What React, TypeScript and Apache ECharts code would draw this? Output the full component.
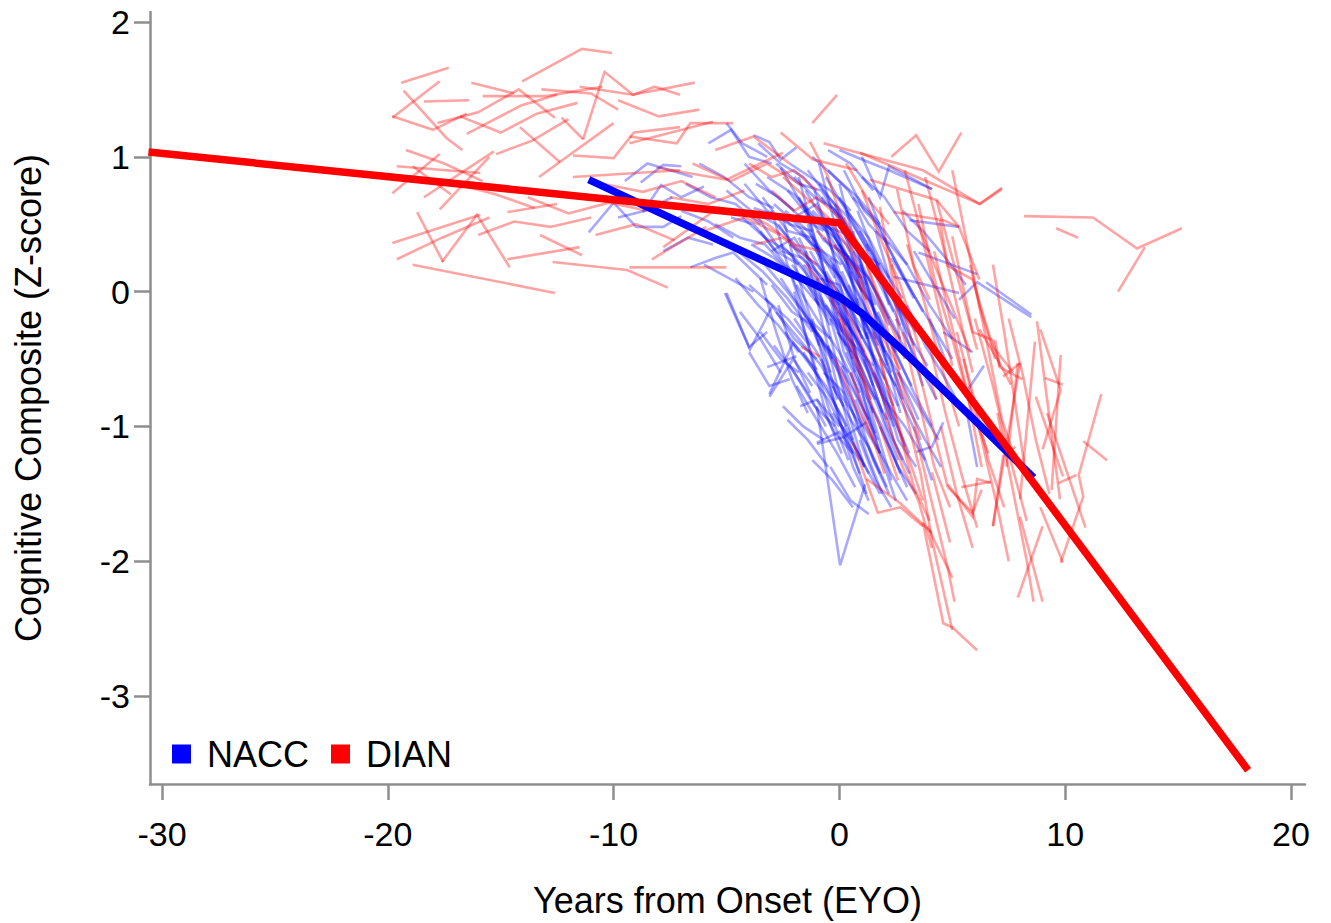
import React, { useEffect, useRef } from "react";
import * as echarts from "echarts";

// ---- axis ticks ----
const X_TICKS = [-30, -20, -10, 0, 10, 20];
const Y_TICKS = [-3, -2, -1, 0, 1, 2];

// ---- fitted group trajectories [EYO, z] ----
const DIAN_FIT = [
  [-30.6, 1.035],
  [0, 0.51],
  [18.1, -3.55],
];
const NACC_FIT = [
  [-11.1, 0.83],
  [-7, 0.51],
  [-3, 0.2],
  [-1, 0.045],
  [0, -0.04],
  [1, -0.16],
  [2.7, -0.42],
  [5.6, -0.89],
  [8.6, -1.38],
];

// ---- individual DIAN trajectories (flat x,y pairs) ----
const DIAN_TRAJ: number[][] = [
  [-19.4, 1.55, -17.3, 1.66],
  [-14.05, 1.56, -11.4, 1.8, -10.07, 1.77],
  [-19.3, 1.49, -17.4, 1.14, -16.7, 1.05],
  [-19.8, 1.29, -17.7, 1.56],
  [-18.4, 1.41, -16.4, 1.42],
  [-19.8, 1.3, -18.0, 1.2, -16.5, 1.32],
  [-17.8, 1.25, -16.0, 1.33, -14.2, 1.5, -12.6, 1.29],
  [-16.5, 1.17, -14.1, 1.38, -12.5, 1.46],
  [-15.8, 1.45, -13.0, 1.45, -10.5, 1.52],
  [-13.2, 1.5, -11.0, 1.47, -9.8, 1.35],
  [-11.35, 1.13, -10.4, 1.63, -9.14, 1.46, -8.17, 1.52, -7.06, 1.46],
  [-12.3, 1.29, -11.35, 1.13],
  [-14.15, 1.22, -12.37, 0.96],
  [-11.5, 1.52, -9.14, 1.46, -6.4, 1.55],
  [-9.3, 1.1, -5.6, 1.26],
  [-19.8, 0.36, -15.9, 0.57],
  [-19.6, 0.24, -17.6, 0.4, -15.5, 0.55],
  [-17.6, 0.22, -16.05, 0.57, -14.6, 0.18],
  [-18.9, 0.2, -12.6, -0.01],
  [-18.7, 0.59, -17.55, 0.22],
  [-14.7, 0.24, -11.5, 0.33],
  [-13.26, 0.42, -11.4, 0.27],
  [-12.7, 0.22, -9.4, 0.16, -7.6, 0.03],
  [-19.8, 0.73, -17.7, 1.02],
  [-18.4, 0.7, -15.3, 1.04],
  [-17.7, 0.61, -15.5, 1.0],
  [-19.6, 0.93, -15.9, 0.88],
  [-18.9, 0.93, -17.2, 0.72],
  [-14.7, 0.59, -12.5, 0.65],
  [-11.8, 0.85, -7.06, 0.9],
  [-13.3, 0.85, -12.4, 0.96, -10.0, 1.25],
  [-11.8, 1.01, -10.0, 0.99, -9.1, 1.18, -7.06, 1.22],
  [-9.3, 1.15, -7.2, 1.1, -6.6, 1.25, -4.7, 1.25],
  [-9.3, 0.18, -5.0, 0.18],
  [-8.3, 0.24, -5.9, 0.48],
  [-7.8, 0.33, -5.3, 0.63],
  [-8.1, 0.92, -5.0, 0.83, -2.5, 1.03],
  [-2.6, 1.18, -1.17, 0.98, 0.8, 0.9],
  [-0.7, 1.1, 1.5, 1.0, 3.7, 0.9, 6.2, 0.65, 7.2, 0.77],
  [2.3, 1.0, 3.4, 1.16, 4.4, 0.89, 5.4, 1.18],
  [-16.8, 1.3, -15.0, 1.18, -13.4, 1.32, -11.6, 1.4],
  [-15.2, 1.02, -13.6, 1.12, -12.0, 1.28],
  [-17.0, 0.8, -15.2, 0.72, -13.5, 0.62],
  [-16.0, 0.42, -14.4, 0.52, -12.8, 0.48, -11.0, 0.55],
  [-13.8, 0.7, -12.0, 0.58, -10.2, 0.66, -8.5, 0.6],
  [-10.8, 0.42, -9.0, 0.5, -7.3, 0.38],
  [-10.5, 0.8, -8.7, 0.74, -7.0, 0.82, -5.5, 0.7],
  [-9.8, 1.42, -8.0, 1.3, -6.2, 1.35],
  [-19.2, 1.05, -17.5, 0.95, -15.8, 0.82],
  [-16.3, 1.55, -14.4, 1.47],
  [-6.5, 0.95, -4.8, 0.82, -3.2, 0.95, -1.6, 0.78],
  [-6.0, 0.45, -4.2, 0.55, -2.6, 0.42],
  [-5.5, 1.05, -3.8, 1.15, -2.2, 0.95],
  [-7.5, 0.7, -5.8, 0.65, -4.2, 0.75],
  [-1.2, 1.25, -0.1, 1.46],
  [-2.5, 0.85, -1.5, 0.7, -0.5, 0.55, 0.5, 0.3],
  [-1.3, 1.11, -0.55, 0.87, 0.6, 0.29, 1.2, -0.06],
  [1.8, 0.63, 2.4, 0.04, 2.7, -0.41],
  [2.55, 0.76, 3.3, 0.19, 4.0, -0.06],
  [4.45, 0.53, 4.8, 0.19, 5.9, 0.09, 6.8, -0.41, 7.7, -0.6],
  [0.8, 0.09, 1.5, -0.21, 2.7, -0.58],
  [-1.7, -0.41, -0.85, -0.48],
  [0.6, -1.12, 1.7, -1.64, 2.7, -1.6, 3.7, -1.74],
  [-4.5, 0.6, -3.2, 0.5, -2.0, 0.35, -0.8, 0.3],
  [-3.8, 0.35, -2.5, 0.4, -1.0, 0.2],
  [-0.5, 0.1, 0.5, -0.2, 1.5, -0.6, 2.3, -0.95],
  [0.2, 0.55, 1.0, 0.3, 1.9, -0.1, 2.9, -0.5],
  [1.0, 0.75, 1.8, 0.4, 2.7, 0.05, 3.5, -0.4, 4.3, -0.8],
  [1.5, -0.3, 2.2, -0.75, 3.0, -1.2, 3.7, -1.55],
  [2.0, -0.9, 2.8, -1.3, 3.5, -1.55, 4.1, -1.9],
  [-0.2, -0.5, 0.7, -0.85, 1.5, -1.1],
  [0.3, 0.95, 1.2, 0.7, 2.2, 0.5],
  [-1.0, 0.45, 0.0, 0.3, 1.0, 0.1],
  [3.0, 0.35, 3.8, -0.1, 4.6, -0.6, 5.3, -1.0],
  [3.5, 0.65, 4.2, 0.1, 5.0, -0.35, 5.8, -0.85, 6.6, -1.2],
  [2.3, 0.2, 3.1, -0.3, 3.9, -0.85, 4.8, -1.45],
  [4.0, -0.4, 4.7, -0.9, 5.4, -1.35, 6.1, -1.75],
  [5.2, -0.3, 5.9, -0.75, 6.6, -1.25, 7.3, -1.6],
  [6.0, -0.2, 6.8, -0.7, 7.5, -1.2, 8.3, -1.7],
  [6.8, 0.2, 7.3, -0.3, 7.8, -0.85, 8.3, -1.4],
  [1.35, 0.83, 4.3, 0.68, 5.3, 0.48, 6.2, 0.09],
  [4.3, 0.68, 6.1, -0.43],
  [3.4, 0.53, 5.8, -0.45],
  [2.4, 0.59, 4.6, 0.53, 5.3, 0.48],
  [5.0, 0.41, 5.9, -0.3, 6.8, -0.36, 7.1, -0.56],
  [8.9, -0.28, 9.8, -0.73, 9.0, -1.17],
  [9.8, -0.47, 9.4, -1.47],
  [8.7, -0.78, 9.9, -1.37],
  [9.1, -0.64, 9.9, -0.69],
  [11.6, -0.76, 10.6, -1.36, 10.8, -1.52, 9.8, -2.01],
  [10.8, -1.11, 11.85, -1.25],
  [9.7, -1.42, 10.5, -1.36],
  [7.9, -2.27, 9.0, -1.74],
  [9.0, -2.3, 8.0, -1.67],
  [6.8, -1.74, 7.25, -1.22, 7.8, -1.15],
  [4.8, -1.43, 5.9, -1.67, 6.1, -1.39, 6.7, -1.42],
  [5.4, -1.45, 6.7, -1.41],
  [4.1, -1.34, 4.9, -1.86],
  [3.7, -1.71, 4.6, -2.46, 5.0, -2.49, 6.1, -2.66],
  [3.9, -1.74, 5.0, -2.12],
  [7.25, -0.63, 8.0, -0.53],
  [6.2, -0.28, 7.1, -0.53, 7.6, -0.69],
  [8.9, -1.6, 9.9, -2.01],
  [1.2, -1.39, 2.7, -1.57, 4.1, -1.79],
  [8.75, -0.22, 9.77, -1.54],
  [8.66, -0.37, 8.0, -1.54],
  [6.9, -0.36, 7.1, -0.56, 8.1, -0.65],
  [7.9, -0.53, 7.4, -1.3],
  [2.5, -0.6, 3.6, -1.35, 4.1, -1.84, 5.0, -2.51],
  [6.8, -1.74, 8.0, -0.53],
  [4.8, -1.45, 5.9, -1.64, 6.3, -1.47],
  [7.0, -0.9, 7.6, -1.4, 8.3, -2.0, 8.6, -2.3],
  [5.5, -0.5, 6.3, -1.1, 7.0, -1.6, 7.5, -2.0],
  [3.3, -1.0, 4.0, -1.5, 4.8, -2.05, 5.1, -2.3],
  [9.2, -0.9, 10.0, -1.3, 10.9, -1.75],
  [8.17, 0.56, 11.23, 0.55, 13.18, 0.32, 15.17, 0.47],
  [13.53, 0.33, 12.34, 0.0],
  [9.6, 0.47, 10.57, 0.4],
  [0.91, 1.03, 6.23, 0.65, 7.2, 0.76],
  [-1.5, 0.2, -0.5, 0.0, 0.5, -0.35, 1.4, -0.8],
  [0.0, -0.2, 0.9, -0.6, 1.8, -1.0, 2.6, -1.4],
  [1.2, 0.2, 2.0, -0.2, 2.8, -0.7, 3.6, -1.1],
  [2.8, -0.3, 3.5, -0.8, 4.2, -1.3, 4.9, -1.6],
  [3.8, 0.85, 4.5, 0.4, 5.2, -0.1, 5.9, -0.6],
  [5.0, 0.9, 5.6, 0.4, 6.2, -0.1, 6.9, -0.5],
  [-3.0, 0.75, -2.0, 0.6, -1.0, 0.7, 0.0, 0.55],
  [-4.0, 0.95, -3.0, 0.85, -2.0, 0.9, -1.0, 0.75],
  [0.5, -0.6, 1.3, -1.0, 2.0, -1.35],
  [4.5, -1.0, 5.2, -1.5, 5.9, -1.9],
  [7.5, -0.2, 8.1, -0.6, 8.7, -1.1, 9.3, -1.5],
  [1.8, -0.5, 2.6, -1.0, 3.3, -1.45, 4.0, -1.7],
  [4.2, 0.3, 4.9, -0.2, 5.6, -0.7, 6.3, -1.3],
  [5.8, 0.2, 6.5, -0.35, 7.2, -0.95, 7.9, -1.3],
  [2.9, 0.9, 3.6, 0.45, 4.3, -0.05, 5.0, -0.55],
];

// ---- individual NACC trajectories (flat x,y pairs) ----
const NACC_TRAJ: number[][] = [
  [-3.8, 0.62, -2.5, 0.55, -1.2, 0.35, 0.1, 0.2],
  [-3.2, 0.85, -2.0, 0.72, -0.8, 0.5, 0.4, 0.42],
  [-2.6, 0.92, -1.5, 0.6, -0.4, 0.45, 0.9, 0.1],
  [-2.2, 0.35, -1.0, 0.2, 0.2, -0.05, 1.3, -0.35],
  [-1.8, 0.7, -0.7, 0.38, 0.5, 0.25, 1.6, -0.1],
  [-1.5, 0.1, -0.6, -0.12, 0.4, -0.35, 1.5, -0.55],
  [-1.0, 0.55, 0.0, 0.3, 1.0, 0.05, 2.0, -0.3],
  [-0.6, 0.85, 0.3, 0.6, 1.3, 0.4, 2.2, 0.1],
  [-0.2, 0.0, 0.7, -0.25, 1.6, -0.5, 2.6, -0.85],
  [0.1, 0.45, 1.0, 0.2, 2.0, -0.15, 3.0, -0.45],
  [0.4, -0.2, 1.2, -0.5, 2.0, -0.75, 2.9, -1.15],
  [0.6, 0.7, 1.5, 0.55, 2.4, 0.25, 3.3, -0.05],
  [-4.5, 0.3, -3.4, 0.15, -2.3, -0.05, -1.2, -0.3],
  [-4.0, 0.05, -3.0, -0.1, -2.0, -0.35, -1.0, -0.5],
  [-3.5, 0.45, -2.4, 0.2, -1.4, 0.05, -0.4, -0.25],
  [-2.8, -0.15, -1.8, -0.35, -0.8, -0.55, 0.2, -0.85],
  [-2.4, 0.6, -1.4, 0.45, -0.3, 0.2, 0.7, -0.1, 1.7, -0.4],
  [-1.9, 0.05, -1.0, -0.2, 0.0, -0.45, 0.9, -0.75],
  [-1.3, 0.3, -0.4, 0.05, 0.6, -0.3, 1.5, -0.7],
  [-0.9, -0.35, 0.0, -0.6, 0.9, -0.95, 1.8, -1.2],
  [-0.4, 0.25, 0.5, -0.05, 1.4, -0.25, 2.3, -0.6],
  [0.2, 0.9, 1.1, 0.6, 2.0, 0.45, 3.0, 0.2],
  [0.8, -0.05, 1.7, -0.35, 2.6, -0.6, 3.5, -0.95],
  [1.2, 0.35, 2.1, 0.05, 3.0, -0.3, 3.9, -0.55],
  [1.5, -0.6, 2.3, -0.9, 3.1, -1.2],
  [-3.0, 0.3, -2.0, 0.4, -1.0, 0.15, 0.0, -0.1],
  [-2.0, 0.85, -1.1, 0.7, -0.1, 0.6, 0.8, 0.35],
  [-1.6, -0.45, -0.7, -0.7, 0.2, -0.95, 1.1, -1.3],
  [-0.8, 0.1, 0.1, -0.15, 1.0, -0.45, 1.9, -0.9],
  [-0.3, 0.6, 0.6, 0.4, 1.5, 0.15, 2.4, -0.15],
  [0.3, -0.45, 1.1, -0.75, 1.9, -1.0, 2.7, -1.35],
  [-5.5, 0.5, -4.4, 0.4, -3.3, 0.35, -2.2, 0.15],
  [-5.0, 0.75, -3.9, 0.6, -2.8, 0.5, -1.7, 0.3],
  [-4.2, 0.95, -3.1, 0.75, -2.0, 0.6],
  [-3.6, 1.1, -2.6, 0.95, -1.6, 0.85, -0.6, 0.65],
  [-1.2, 1.0, -0.2, 0.85, 0.8, 0.7, 1.8, 0.5],
  [-0.5, 1.05, 0.5, 0.95, 1.5, 0.75],
  [1.0, 0.85, 2.0, 0.7, 3.0, 0.45, 4.0, 0.3],
  [2.0, 0.4, 3.0, 0.2, 4.0, -0.1, 5.0, -0.35],
  [2.5, -0.2, 3.4, -0.5, 4.3, -0.8],
  [1.8, -1.0, 2.6, -1.3, 3.4, -1.5],
  [0.9, -1.1, 1.6, -1.4, 2.3, -1.6],
  [-0.3, -0.9, 0.5, -1.1, 1.3, -1.35],
  [-1.0, -0.8, -0.2, -1.05, 0.6, -1.2],
  [-2.2, -0.55, -1.4, -0.75, -0.6, -1.0],
  [-3.5, -0.3, -2.6, -0.5, -1.8, -0.6],
  [-6.0, 0.2, -4.9, 0.1, -3.8, 0.0],
  [-6.6, 0.18, -5.5, 0.25, -4.7, 0.29, -3.2, 0.05],
  [-7.0, 0.6, -5.8, 0.52, -4.7, 0.4],
  [-6.2, 0.95, -5.1, 0.85, -4.0, 0.7, -2.9, 0.62],
  [-5.8, 1.1, -4.8, 1.2, -4.0, 1.0, -3.0, 0.95],
  [-9.5, 0.82, -8.5, 0.95, -7.5, 0.9, -6.5, 0.85],
  [-11.1, 0.44, -10.0, 0.66, -9.0, 0.48, -7.8, 0.48, -7.0, 0.56],
  [-8.8, 0.81, -7.8, 0.94, -7.0, 0.93],
  [-8.7, 0.59, -7.9, 0.79, -7.0, 0.7, -6.0, 0.78],
  [-5.0, 1.25, -4.3, 1.1, -3.2, 1.0],
  [-3.8, 1.16, -3.1, 1.11, -2.6, 0.98, -1.9, 1.07],
  [0.0, 1.05, 1.0, 0.98, 2.2, 0.9, 4.1, 0.76],
  [-5.0, -0.01, -4.0, -0.41, -3.2, -0.3],
  [-3.2, -0.56, -1.9, -0.48],
  [-3.1, -0.76, -2.05, -0.38, -1.0, -0.58],
  [-1.74, -0.85, -1.0, -0.8, 0.0, -1.0],
  [-1.0, -1.13, 0.17, -1.08, 1.2, -0.97],
  [-1.0, -0.85, 0.03, -2.03, 1.14, -1.43],
  [6.5, 0.07, 8.5, -0.17],
  [5.65, -0.9, 6.1, -1.3],
  [3.4, -1.19, 4.1, -1.15, 4.6, -0.97],
  [1.0, 1.0, 1.8, 0.7, 2.2, 0.93, 4.1, 0.76],
  [3.1, 0.53, 5.3, 0.48],
  [3.5, 0.29, 6.1, 0.13],
  [5.3, -0.06, 6.1, 0.07, 8.5, -0.19],
  [2.4, 0.11, 5.3, -0.01],
  [4.6, -0.3, 5.9, -0.45],
  [0.5, -0.6, 1.3, -0.95, 2.1, -1.35, 2.5, -1.55],
  [1.2, -0.3, 1.9, -0.7, 2.6, -1.1, 3.4, -1.3],
  [-0.5, -0.4, 0.4, -0.8, 1.2, -1.2, 1.9, -1.5],
  [2.2, -0.5, 3.0, -0.85, 3.8, -1.1, 4.5, -1.3],
  [3.0, -0.1, 3.8, -0.4, 4.7, -0.65, 5.5, -0.9],
  [2.8, 0.6, 3.7, 0.45, 4.7, 0.25, 5.6, 0.05],
  [4.0, -0.2, 4.9, -0.6, 5.6, -0.75, 6.4, -0.55],
  [-2.0, -0.2, -1.0, -0.45, 0.0, -0.75, 1.0, -1.0],
  [-2.6, 0.1, -1.6, -0.15, -0.6, -0.4, 0.4, -0.6],
  [-1.4, 0.9, -0.5, 0.7, 0.4, 0.55, 1.3, 0.3],
  [0.0, 0.7, 0.9, 0.45, 1.8, 0.2, 2.8, -0.05],
  [-0.6, -0.1, 0.3, -0.3, 1.2, -0.65, 2.1, -0.95],
  [-1.7, 0.45, -0.8, 0.25, 0.1, 0.1, 1.0, -0.2],
  [-2.9, 0.65, -1.9, 0.5, -0.9, 0.3],
  [0.5, 0.15, 1.4, -0.1, 2.3, -0.4, 3.2, -0.7],
  [1.6, 0.2, 2.5, -0.1, 3.4, -0.3],
  [-0.1, -0.3, 0.8, -0.5, 1.7, -0.85, 2.6, -1.25],
  [-3.3, -0.05, -2.3, -0.2, -1.3, -0.4],
  [-4.3, 0.55, -3.3, 0.4, -2.3, 0.3, -1.3, 0.1],
  [-0.8, 0.7, 0.1, 0.55, 1.0, 0.25],
  [1.1, -0.5, 2.0, -0.8, 2.9, -1.0, 3.8, -1.25],
  [-2.5, -0.85, -1.6, -1.0, -0.7, -1.1],
  [-4.0, -0.45, -3.1, -0.7, -2.2, -0.65],
  [-5.07, -0.01, -3.96, -0.43, -2.98, -0.11],
  [-3.1, -0.78, -2.05, -0.5, -1.2, -0.7],
  [-1.0, -1.12, 0.0, -1.04, 0.9, -1.25],
  [-2.3, 0.75, -1.3, 0.55, -0.2, 0.4, 0.8, 0.15],
  [-1.1, -0.05, -0.2, -0.25, 0.7, -0.55, 1.6, -0.8],
  [-0.7, 0.4, 0.2, 0.2, 1.1, -0.1, 2.0, -0.45],
  [0.6, 0.3, 1.4, 0.0, 2.2, -0.25],
  [-3.7, 0.8, -2.7, 0.7, -1.7, 0.55, -0.7, 0.45],
  [-2.1, 0.2, -1.2, 0.0, -0.3, -0.2, 0.6, -0.5],
  [-3.4, 0.7, -2.3, 0.45, -1.2, 0.4, -0.2, 0.1],
  [-2.7, 0.5, -1.7, 0.25, -0.7, 0.1, 0.3, -0.25],
  [-2.0, 0.55, -1.0, 0.65, 0.0, 0.35, 1.0, 0.0],
  [-1.5, 0.75, -0.6, 0.5, 0.3, 0.35, 1.2, 0.05],
  [-1.1, 0.35, -0.2, 0.15, 0.7, -0.1, 1.6, -0.35],
  [-0.9, 0.8, 0.0, 0.6, 0.9, 0.3, 1.8, 0.2],
  [-0.5, 0.55, 0.4, 0.25, 1.3, 0.1, 2.2, -0.2],
  [-0.2, 0.35, 0.6, 0.05, 1.4, -0.2, 2.2, -0.5],
  [0.1, 0.15, 0.9, -0.15, 1.7, -0.45, 2.5, -0.7],
  [0.3, 0.6, 1.1, 0.35, 1.9, 0.05, 2.7, -0.25],
  [-3.9, 0.35, -2.9, 0.25, -1.9, 0.1, -0.9, -0.1],
  [-3.3, 0.2, -2.3, 0.0, -1.4, -0.2, -0.4, -0.35],
  [-2.8, 0.95, -1.8, 0.8, -0.8, 0.75, 0.2, 0.5],
  [-2.4, -0.3, -1.5, -0.5, -0.6, -0.7, 0.3, -1.0],
  [-1.9, -0.7, -1.0, -0.95, -0.1, -1.2, 0.7, -1.45],
  [-1.3, -0.25, -0.4, -0.45, 0.5, -0.7, 1.3, -0.95],
  [-0.7, -0.6, 0.2, -0.75, 1.0, -1.05, 1.8, -1.35],
  [-0.1, -0.15, 0.8, -0.35, 1.6, -0.65, 2.4, -1.0],
  [0.5, -0.35, 1.3, -0.6, 2.1, -1.0, 2.8, -1.25],
  [0.9, 0.45, 1.7, 0.2, 2.5, -0.05, 3.3, -0.4],
  [1.3, 0.7, 2.1, 0.35, 2.9, 0.1, 3.7, -0.15],
  [1.7, -0.15, 2.5, -0.45, 3.3, -0.75, 4.1, -1.0],
  [-4.8, 0.55, -3.8, 0.5, -2.8, 0.3, -1.8, 0.2],
  [-4.6, 0.1, -3.6, -0.1, -2.7, -0.25, -1.8, -0.45],
  [-4.2, 0.8, -3.2, 0.6, -2.2, 0.5, -1.2, 0.45],
  [-3.0, 0.05, -2.1, -0.15, -1.2, -0.25, -0.3, -0.5],
  [-1.6, 0.2, -0.7, 0.0, 0.2, -0.2, 1.1, -0.45],
  [-0.3, -0.7, 0.5, -0.95, 1.3, -1.15, 2.1, -1.45],
  [0.7, -0.8, 1.5, -1.1, 2.3, -1.35, 3.0, -1.55],
  [-2.2, 0.95, -1.3, 0.85, -0.4, 0.75, 0.5, 0.6],
  [-1.8, 0.4, -0.9, 0.1, 0.0, 0.05, 0.9, -0.3],
  [-1.2, 0.6, -0.3, 0.45, 0.6, 0.1, 1.5, -0.1],
  [-0.6, 0.15, 0.3, -0.1, 1.2, -0.4, 2.0, -0.65],
  [0.0, 0.35, 0.8, 0.15, 1.6, -0.15, 2.5, -0.45],
  [0.4, 0.05, 1.2, -0.25, 2.0, -0.55, 2.8, -0.8],
  [-2.6, 0.35, -1.7, 0.2, -0.8, -0.05, 0.1, -0.3],
  [-3.6, 0.55, -2.6, 0.3, -1.6, 0.25, -0.6, 0.0],
  [-1.4, -0.6, -0.5, -0.8, 0.4, -1.1, 1.2, -1.5],
  [0.2, -1.0, 1.0, -1.25, 1.8, -1.5],
  [1.4, -0.85, 2.2, -1.15, 3.0, -1.45],
  [-4.4, -0.15, -3.5, -0.35, -2.6, -0.6],
  [-2.9, -0.4, -2.0, -0.6, -1.1, -0.85, -0.2, -1.0],
  [-0.5, 0.9, 0.4, 0.75, 1.3, 0.5, 2.2, 0.35],
  [0.9, 0.2, 1.8, -0.05, 2.7, -0.35],
  [2.3, 0.25, 3.2, 0.0, 4.1, -0.25, 5.0, -0.5],
  [2.6, -0.6, 3.5, -0.85, 4.4, -1.1],
  [3.3, 0.3, 4.2, 0.05, 5.1, -0.2],
  [-6.8, 0.8, -5.7, 0.7, -4.6, 0.65, -3.5, 0.5],
  [-7.8, 0.3, -6.7, 0.4, -5.6, 0.35],
  [-9.8, 0.55, -8.6, 0.6, -7.4, 0.7],
  [-2.3, -0.95, -1.4, -1.1, -0.5, -1.3],
  [-1.2, -1.25, -0.3, -1.4, 0.6, -1.6],
  [-0.4, -1.3, 0.5, -1.55, 1.3, -1.65],
  [-1.5, 0.3, -0.8, -0.2, -0.1, -0.7, 0.6, -1.1],
  [-1.0, 0.1, -0.3, -0.4, 0.4, -0.9, 1.1, -1.3],
  [-0.6, 0.5, 0.1, 0.0, 0.8, -0.5, 1.5, -0.9],
  [-2.0, 0.0, -1.3, -0.45, -0.6, -0.9, 0.1, -1.2],
  [-0.3, 0.2, 0.4, -0.3, 1.1, -0.8, 1.8, -1.2],
  [0.2, -0.1, 0.9, -0.6, 1.6, -1.0, 2.3, -1.4],
  [-1.2, -0.2, -0.5, -0.65, 0.2, -1.05, 0.9, -1.35],
  [-2.5, 0.55, -1.8, 0.1, -1.1, -0.3, -0.4, -0.6],
  [-1.8, 0.85, -1.1, 0.4, -0.4, 0.0, 0.3, -0.4],
  [-0.9, 0.95, -0.2, 0.5, 0.5, 0.1, 1.2, -0.35],
  [0.0, 0.8, 0.7, 0.35, 1.4, -0.05, 2.1, -0.55],
  [0.6, 0.45, 1.3, 0.0, 2.0, -0.45, 2.7, -0.9],
  [1.0, -0.2, 1.7, -0.65, 2.4, -1.1, 3.1, -1.35],
  [-3.0, 0.6, -2.3, 0.2, -1.6, -0.1, -0.9, -0.4],
  [-3.5, 0.1, -2.8, -0.3, -2.1, -0.65, -1.4, -0.9],
  [-1.6, 0.65, -0.9, 0.3, -0.2, -0.15, 0.5, -0.45],
  [-0.4, -0.2, 0.3, -0.6, 1.0, -0.85, 1.7, -1.1],
  [-2.2, 0.15, -1.5, -0.2, -0.8, -0.35, -0.1, -0.8],
  [0.3, 0.25, 1.0, -0.2, 1.7, -0.6, 2.4, -0.85],
  [-1.4, 0.5, -0.7, 0.15, 0.0, -0.1, 0.7, -0.6],
  [-0.8, -0.5, -0.1, -0.9, 0.6, -1.3, 1.3, -1.55],
  [1.6, 0.45, 2.3, 0.05, 3.0, -0.35, 3.7, -0.7],
  [2.0, -0.3, 2.7, -0.8, 3.4, -1.05, 4.1, -1.4],
  [-2.7, -0.1, -2.0, -0.5, -1.3, -0.75],
  [-0.2, 0.65, 0.5, 0.3, 1.2, -0.15, 1.9, -0.3],
  [-1.1, 0.75, -0.4, 0.35, 0.3, 0.0, 1.0, -0.35],
  [0.8, 0.6, 1.5, 0.3, 2.2, -0.1],
  [-1.7, -0.2, -1.0, -0.6, -0.3, -0.95, 0.4, -1.25],
  [-0.5, 0.0, 0.2, -0.45, 0.9, -0.7, 1.6, -1.05],
  [0.1, -0.55, 0.8, -0.9, 1.5, -1.25, 2.2, -1.5],
];

function pairs(flat: number[]): number[][] {
  const out: number[][] = [];
  for (let i = 0; i + 1 < flat.length; i += 2) out.push([flat[i], flat[i + 1]]);
  return out;
}

const FONT = "'Liberation Sans', Arial, Helvetica, sans-serif";
const AXIS_GRAY = "#8e8e8e";

function spaghetti(traj: number[][], color: string, opacity: number, z: number, prefix: string) {
  return traj.map((t, i) => ({
    name: prefix + i,
    type: "line",
    data: pairs(t),
    showSymbol: false,
    symbol: "none",
    silent: true,
    clip: true,
    emphasis: { disabled: true },
    lineStyle: { color, width: 2.6, opacity, join: "miter" },
    itemStyle: { color },
    z,
  }));
}

export default function App() {
  const ref = useRef<HTMLDivElement>(null);

  useEffect(() => {
    if (!ref.current) return;
    const chart = echarts.init(ref.current, null, { renderer: "svg" });
    const option: any = {
      animation: false,
      backgroundColor: "#ffffff",
      grid: { left: 150, right: 26, top: 12, bottom: 138, containLabel: false },
      legend: {
        left: 172,
        top: 736,
        orient: "horizontal",
        itemWidth: 19,
        itemHeight: 19,
        itemGap: 22,
        padding: 0,
        selectedMode: false,
        data: [
          { name: "NACC", icon: "rect" },
          { name: "DIAN", icon: "rect" },
        ],
        textStyle: {
          fontFamily: FONT,
          fontSize: 36,
          color: "#000",
          padding: [0, 0, 0, 11],
        },
      },
      xAxis: {
        type: "value",
        min: -30.53,
        max: 20.62,
        name: "Years from Onset (EYO)",
        nameLocation: "middle",
        nameGap: 98,
        nameTextStyle: { fontFamily: FONT, fontSize: 36, color: "#000" },
        axisLine: { show: true, onZero: false, lineStyle: { color: AXIS_GRAY, width: 2.5 } },
        axisTick: {
          show: true,
          length: 16,
          inside: false,
          customValues: X_TICKS,
          lineStyle: { color: AXIS_GRAY, width: 2.5 },
        },
        axisLabel: {
          customValues: X_TICKS,
          margin: 33,
          fontFamily: FONT,
          fontSize: 34,
          color: "#000",
          formatter: (v: number) => String(v),
        },
        splitLine: { show: false },
      },
      yAxis: {
        type: "value",
        min: -3.652,
        max: 2.074,
        name: "Cognitive Composite (Z-score)",
        nameLocation: "middle",
        nameGap: 104,
        nameTextStyle: { fontFamily: FONT, fontSize: 36, color: "#000" },
        axisLine: { show: true, onZero: false, lineStyle: { color: AXIS_GRAY, width: 2.5 } },
        axisTick: {
          show: true,
          length: 16,
          inside: false,
          customValues: Y_TICKS,
          lineStyle: { color: AXIS_GRAY, width: 2.5 },
        },
        axisLabel: {
          customValues: Y_TICKS,
          margin: 20,
          fontFamily: FONT,
          fontSize: 34,
          color: "#000",
          formatter: (v: number) => String(v),
        },
        splitLine: { show: false },
      },
      series: [
        ...spaghetti(NACC_TRAJ, "#0000ff", 0.34, 2, "nacc-"),
        ...spaghetti(DIAN_TRAJ, "#ff0000", 0.36, 3, "dian-"),
        {
          name: "NACC",
          type: "line",
          data: NACC_FIT,
          showSymbol: false,
          symbol: "none",
          clip: true,
          itemStyle: { color: "#0000ff" },
          lineStyle: { color: "#0000ff", width: 7.5, cap: "butt", join: "round" },
          z: 4,
        },
        {
          name: "DIAN",
          type: "line",
          data: DIAN_FIT,
          showSymbol: false,
          symbol: "none",
          clip: true,
          itemStyle: { color: "#ff0000" },
          lineStyle: { color: "#ff0000", width: 7.5, cap: "butt", join: "miter" },
          z: 5,
        },
      ],
    };
    chart.setOption(option);
    return () => chart.dispose();
  }, []);

  return (
    <div
      ref={ref}
      style={{ position: "fixed", left: 0, top: 0, width: 1331, height: 923, background: "#fff" }}
    />
  );
}
